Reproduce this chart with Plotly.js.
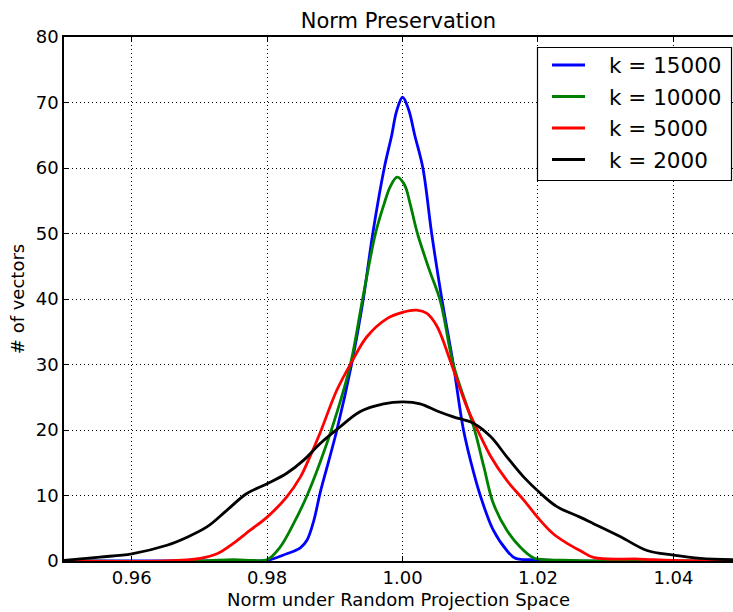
<!DOCTYPE html>
<html>
<head>
<meta charset="utf-8">
<script src="https://cdn.plot.ly/plotly-3.0.1.min.js"></script>
<style>
  html, body { margin: 0; padding: 0; background: #ffffff; }
  #chart { width: 733px; height: 612px; }
</style>
</head>
<body>
<div id="chart"></div>
<script>
// Density of vector norms after random projection, one curve per target dimension k.
const seriesNames = ["k = 15000", "k = 10000", "k = 5000", "k = 2000"];
const seriesColors = ["#0000ff", "#008000", "#ff0000", "#000000"];

const xK15000 = [0.95, 0.975, 0.98, 0.9829, 0.9849, 0.9859, 0.9869, 0.9878, 0.9886, 0.9903,
  0.9925, 0.9942, 0.9956, 0.9973, 0.9984, 0.9991, 1.0, 1.0009, 1.0018, 1.003,
  1.0043, 1.0058, 1.0075, 1.009, 1.0105, 1.0117, 1.0134, 1.0154, 1.0167, 1.02,
  1.025, 1.0488];
const yK15000 = [0, 0, 0.1, 1.1, 2.0, 3.2, 6.2, 10.3, 13.4, 20,
  30.2, 40, 50, 60, 65, 68.6, 70.8, 68.9, 65, 60,
  50, 40, 30, 20, 13.5, 9.3, 4.7, 1.6, 0.4, 0.2,
  0, 0];

const xK10000 = [0.95, 0.97, 0.975, 0.978, 0.98, 0.9819, 0.9839, 0.9859, 0.9878, 0.9898,
  0.9923, 0.9941, 0.996, 0.9973, 0.9982, 0.9992, 1.0003, 1.0011, 1.0022, 1.0039,
  1.0056, 1.0075, 1.0105, 1.012, 1.0134, 1.0154, 1.0174, 1.0193, 1.02, 1.025,
  1.0488];
const yK10000 = [0, 0, 0.2, 0.1, 0.2, 2.1, 5.7, 10, 15, 21,
  30, 40, 50, 54.6, 57.2, 58.6, 57.4, 54.6, 50, 44.6,
  39.6, 30, 20.5, 14.4, 8.8, 4.7, 2.1, 0.5, 0.3, 0.1,
  0];

const xK5000 = [0.95, 0.965, 0.9701, 0.9726, 0.975, 0.9775, 0.98, 0.9829, 0.9849, 0.9861,
  0.9878, 0.9903, 0.9925, 0.9947, 0.9977, 1.0001, 1.0021, 1.0036, 1.0051, 1.007,
  1.0095, 1.0113, 1.013, 1.0154, 1.0179, 1.02, 1.0222, 1.0243, 1.0262, 1.0283,
  1.035, 1.04, 1.0488];
const yK5000 = [0, 0, 0.4, 1.1, 2.7, 4.7, 6.7, 9.8, 12.8, 15.4,
  19.5, 26.1, 30.4, 34.2, 37, 38, 38.3, 37.8, 35.8, 30.7,
  23.5, 19.5, 16.0, 12.3, 9.3, 6.6, 4.2, 2.7, 1.6, 0.5,
  0.3, 0.1, 0];

const xK2000 = [0.95, 0.9553, 0.96, 0.9652, 0.9681, 0.9711, 0.974, 0.977, 0.98, 0.9829,
  0.9854, 0.9878, 0.9908, 0.9937, 0.9972, 1.0001, 1.0026, 1.0051, 1.0075, 1.0105,
  1.013, 1.0154, 1.0179, 1.0204, 1.0228, 1.0262, 1.0282, 1.0322, 1.0361, 1.04,
  1.044, 1.0488];
const yK2000 = [0.1, 0.6, 1.1, 2.4, 3.6, 5.2, 7.7, 10.3, 11.8, 13.4,
  15.4, 17.9, 20.5, 22.8, 24, 24.3, 24, 22.9, 22, 21,
  19, 15.9, 12.8, 10.3, 8.3, 6.7, 5.7, 3.7, 1.6, 0.9,
  0.4, 0.2];

const xTickVals = [0.96, 0.98, 1.00, 1.02, 1.04];
const yTickVals = [0, 10, 20, 30, 40, 50, 60, 70, 80];

const xs = [xK15000, xK10000, xK5000, xK2000];
const ys = [yK15000, yK10000, yK5000, yK2000];

const font = "DejaVu Sans, Liberation Sans, sans-serif";

// Plot area in page pixels, used to place the legend box in paper coordinates.
const W = 733, H = 612;
const M = { l: 64, r: 0, t: 37, b: 51 };
const plotW = W - M.l - M.r, plotH = H - M.t - M.b;
const px = (x) => (x - M.l) / plotW;
const py = (y) => (H - M.b - y) / plotH;

const traces = seriesNames.map((name, i) => ({
  type: "scatter",
  mode: "lines",
  name: name,
  x: xs[i],
  y: ys[i],
  line: { color: seriesColors[i], width: 2.8, shape: "spline", smoothing: 1 },
  hoverinfo: "x+y+name"
}));

// Legend: framed box with a line sample and label per series.
const legendBox = { x0: 537.5, y0: 47.5, x1: 731.5, y1: 180.5 };
const rowY0 = 65, rowStep = 31.5;
const shapes = [{
  type: "rect", xref: "paper", yref: "paper",
  x0: px(legendBox.x0), x1: px(legendBox.x1),
  y0: py(legendBox.y1), y1: py(legendBox.y0),
  fillcolor: "#ffffff", line: { color: "#000000", width: 1.2 }, layer: "above"
}];
const annotations = [];
seriesNames.forEach((name, i) => {
  const yy = rowY0 + i * rowStep;
  shapes.push({
    type: "line", xref: "paper", yref: "paper",
    x0: px(552), x1: px(585), y0: py(yy), y1: py(yy),
    line: { color: seriesColors[i], width: 3 }, layer: "above"
  });
  annotations.push({
    xref: "paper", yref: "paper", x: px(607), y: py(yy + 1),
    xanchor: "left", yanchor: "middle", showarrow: false,
    text: name, font: { family: font, size: 21.5, color: "#000000" }
  });
});

const layout = {
  width: W,
  height: H,
  margin: { l: M.l, r: M.r, t: M.t, b: M.b, pad: 0 },
  paper_bgcolor: "#ffffff",
  plot_bgcolor: "#ffffff",
  font: { family: font, size: 18, color: "#000000" },
  showlegend: false,
  title: {
    text: "Norm Preservation",
    font: { family: font, size: 21, color: "#000000" },
    x: 0.5435, xanchor: "center",
    y: 0.966, yanchor: "middle"
  },
  xaxis: {
    range: [0.95, 1.0488],
    tickmode: "array",
    tickvals: xTickVals,
    tickformat: ".2f",
    ticks: "inside",
    ticklen: 5,
    tickwidth: 1,
    tickcolor: "#000000",
    showline: true,
    linecolor: "#000000",
    linewidth: 1.5,
    mirror: "ticks",
    showgrid: true,
    gridcolor: "#000000",
    griddash: "1px,3px",
    gridwidth: 1,
    zeroline: false,
    tickfont: { family: font, size: 18 },
    title: { text: "Norm under Random Projection Space", font: { family: font, size: 18 }, standoff: 6 }
  },
  yaxis: {
    range: [0, 80],
    tickmode: "array",
    tickvals: yTickVals,
    ticks: "inside",
    ticklen: 5,
    tickwidth: 1,
    tickcolor: "#000000",
    showline: true,
    linecolor: "#000000",
    linewidth: 1.5,
    showgrid: true,
    gridcolor: "#000000",
    griddash: "1px,3px",
    gridwidth: 1,
    zeroline: false,
    tickfont: { family: font, size: 18 },
    title: { text: "# of vectors", font: { family: font, size: 18 }, standoff: 6 }
  },
  shapes: shapes,
  annotations: annotations
};

Plotly.newPlot("chart", traces, layout, { displayModeBar: false });
</script>
</body>
</html>
